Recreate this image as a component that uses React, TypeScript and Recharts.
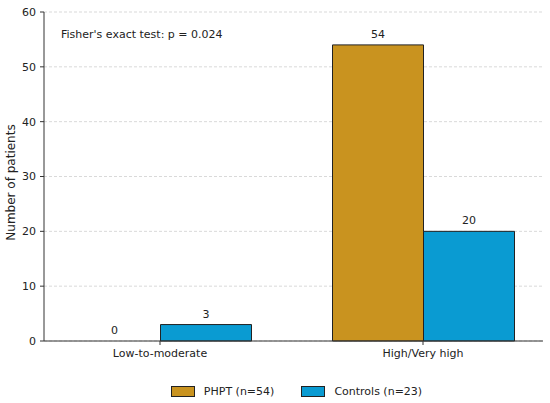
import { BarChart, Bar, XAxis, YAxis, CartesianGrid, Legend, LabelList, Customized, ReferenceDot } from "recharts";

const categories = ["Low-to-moderate", "High/Very high"];
const phptCounts = [0, 54];
const controlCounts = [3, 20];
const yTicks = [0, 10, 20, 30, 40, 50, 60];

const seriesInfo = [
  { key: "phpt", name: "PHPT (n=54)", color: "#C9931F", values: phptCounts },
  { key: "controls", name: "Controls (n=23)", color: "#0A9BD2", values: controlCounts },
];

const data = categories.map((category, i) => ({
  category,
  phpt: phptCounts[i],
  controls: controlCounts[i],
}));

const font = "'DejaVu Sans', sans-serif";
const textColor = "#222";
const barSize = 91;

function LegendContent() {
  return (
    <div style={{ display: "flex", justifyContent: "center", alignItems: "center", height: 24, fontFamily: font, fontSize: 11, color: textColor }}>
      {seriesInfo.map((s, i) => (
        <div key={s.key} style={{ display: "flex", alignItems: "center", marginLeft: i === 0 ? 0 : 27 }}>
          <span style={{ display: "inline-block", width: 22, height: 9, background: s.color, border: "1px solid #222", marginRight: 9 }} />
          <span>{s.name}</span>
        </div>
      ))}
    </div>
  );
}

function ValueLabel(props: any) {
  const { x, y, width, value } = props;
  return (
    <text x={x + width / 2} y={y - 7} textAnchor="middle" fill={textColor} fontSize={11} fontFamily={font}>
      {String(value)}
    </text>
  );
}

// zero-height bars get no label from LabelList, so put their "0" on a reference dot
const zeroLabels = seriesInfo.flatMap((s, si) =>
  s.values
    .map((v, ci) => ({ v, ci }))
    .filter((d) => d.v === 0)
    .map((d) => ({ key: `${s.key}-${d.ci}`, category: categories[d.ci], dx: (si - (seriesInfo.length - 1) / 2) * barSize }))
);

export default function App() {
  return (
    <div style={{ position: "absolute", left: 0, top: 0, width: 550, height: 403, background: "#fff" }}>
      <BarChart width={550} height={403} data={data} margin={{ top: 12, right: 7, left: 0, bottom: 0 }} barGap={0} barSize={barSize}>
        <CartesianGrid vertical={false} stroke="#d9d9d9" strokeDasharray="3 2" />
        <XAxis
          dataKey="category"
          padding={{ left: -15.5, right: -11.5 }}
          height={38}
          tickSize={4}
          tickMargin={4}
          stroke="#333"
          tick={{ fill: textColor, fontSize: 11, fontFamily: font }}
        />
        <YAxis
          width={44}
          domain={[0, 60]}
          ticks={yTicks}
          tickSize={4}
          tickMargin={4}
          stroke="#333"
          tick={{ fill: textColor, fontSize: 11, fontFamily: font }}
          label={{
            content: (props: any) => {
              const vb = props.viewBox || { x: 0, y: 12, width: 44, height: 329 };
              const cx = vb.x + 11;
              const cy = vb.y + vb.height / 2 + 6;
              return (
                <text x={cx} y={cy} transform={`rotate(-90 ${cx} ${cy})`} textAnchor="middle" dominantBaseline="central" fill={textColor} fontSize={12} fontFamily={font}>
                  Number of patients
                </text>
              );
            },
          }}
        />
        <Legend verticalAlign="bottom" height={24} wrapperStyle={{ left: 47, width: 499 }} content={() => <LegendContent />} />
        {seriesInfo.map((s) => (
          <Bar key={s.key} dataKey={s.key} name={s.name} fill={s.color} stroke="#222" strokeWidth={1} isAnimationActive={false}>
            <LabelList dataKey={s.key} content={<ValueLabel />} />
          </Bar>
        ))}
        {zeroLabels.map((z) => (
          <ReferenceDot
            key={z.key}
            x={z.category}
            y={0}
            r={0}
            fill="none"
            stroke="none"
            label={{ value: "0", position: "top", offset: 7, dx: z.dx, fill: textColor, fontSize: 11, fontFamily: font }}
          />
        ))}
        <Customized
          component={() => (
            <text x={61} y={34} dominantBaseline="central" fill={textColor} fontSize={11} fontFamily={font}>
              Fisher's exact test: p = 0.024
            </text>
          )}
        />
      </BarChart>
    </div>
  );
}
